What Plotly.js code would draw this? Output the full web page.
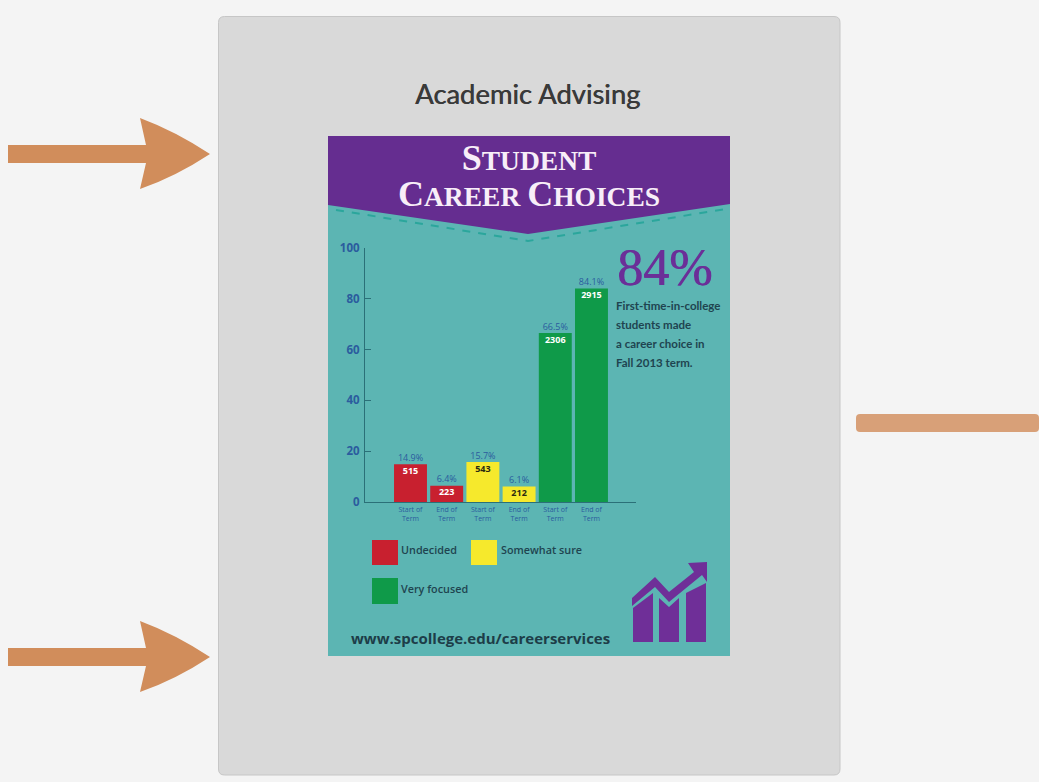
<!DOCTYPE html>
<html>
<head>
<meta charset="utf-8">
<script src="https://cdn.plot.ly/plotly-3.0.1.min.js"></script>
<style>html,body{margin:0;padding:0;background:#f4f4f4}#chart{width:1039px;height:782px}</style>
</head>
<body>
<div id="chart"></div>
<script>
// Chart values
const tickText = ['Start of<br>Term', 'End of<br>Term', 'Start of<br>Term', 'End of<br>Term', 'Start of<br>Term', 'End of<br>Term'];
const undecidedPct = [14.9, 6.4];
const undecidedCount = [515, 223];
const somewhatPct = [15.7, 6.1];
const somewhatCount = [543, 212];
const focusedPct = [66.5, 84.1];
const focusedCount = [2306, 2915];
const yTicks = [0, 20, 40, 60, 80, 100];
const seriesNames = ['Undecided', 'Somewhat sure', 'Very focused'];
const headline = '84%';
const noteLines = ['First-time-in-college', 'students made', 'a career choice in', 'Fall 2013 term.'];
const webAddress = 'www.spcollege.edu/careerservices';

// Plot area in page pixels; decoration is placed relative to it
const W = 1039, H = 782;
const L = 365, R = 636, T = 248, B = 502;
const fx = x => (x - L) / (R - L);
const fy = y => (B - y) / (B - T);

// Turns a compact list of [command, px, py, ...] into a paper-referenced SVG path
function path(cmds) {
  return cmds.map(c => {
    const out = [c[0]];
    for (let i = 1; i < c.length; i += 2) out.push(fx(c[i]) + ',' + fy(c[i + 1]));
    return out.join(' ');
  }).join(' ');
}
function poly(points) {
  return points.map((p, i) => (i ? 'L ' : 'M ') + fx(p[0]) + ',' + fy(p[1])).join(' ') + ' Z';
}
function roundRect(x0, y0, x1, y1, r) {
  return path([['M', x0 + r, y0], ['L', x1 - r, y0], ['Q', x1, y0, x1, y0 + r], ['L', x1, y1 - r],
    ['Q', x1, y1, x1 - r, y1], ['L', x0 + r, y1], ['Q', x0, y1, x0, y1 - r], ['L', x0, y0 + r],
    ['Q', x0, y0, x0 + r, y0]]) + ' Z';
}
function shape(d, fill, line) {
  return { type: 'path', xref: 'paper', yref: 'paper', layer: 'below', path: d, fillcolor: fill,
    line: line || { width: 0 } };
}
function arrow(dy) {
  return path([['M', 8, 145 + dy], ['L', 146, 145 + dy], ['L', 140, 118 + dy],
    ['Q', 175, 131 + dy, 210, 154 + dy], ['Q', 175, 177 + dy, 140, 189 + dy],
    ['L', 146, 163 + dy], ['L', 8, 163 + dy]]) + ' Z';
}
function label(x, y, text, size, color, family, anchor, weight, shadow) {
  const a = anchor || 'left';
  const font = { size, color, family, weight: weight || 400 };
  if (shadow) font.shadow = shadow;
  return { xref: 'paper', yref: 'paper', x: fx(a === 'left' ? x - 2 : x), y: fy(y), text, showarrow: false,
    xanchor: a, yanchor: 'middle', font };
}

const ORANGE = '#d18d5b', PURPLE = '#652d90', TEAL = '#5cb5b3';
const RED = '#c8202f', YELLOW = '#f6e92c', GREEN = '#0f9a49';
const BLUE = '#2b5c9e', INK = '#1f4450';
const SANS = '"Open Sans", sans-serif';
const LATO = 'Lato, sans-serif';
const SERIF = '"Liberation Serif", serif';
const TITLE_WHITE = '#f8eef8';
const bigCap = c => '<span style="font-size:36px">' + c + '</span>';

const shapes = [
  // Grey card
  shape(roundRect(218.5, 16.5, 840, 775, 6), '#d9d9d9', { color: '#c6c6c6', width: 1 }),
  // Pointers around the card
  shape(arrow(0), ORANGE),
  shape(arrow(503), ORANGE),
  shape(roundRect(856, 414, 1039, 432, 4), '#d8a078'),
  // Poster
  shape(poly([[328, 136], [730, 136], [730, 656], [328, 656]]), TEAL),
  shape(poly([[328, 136], [730, 136], [730, 204], [528, 234], [328, 205]]), PURPLE),
  { type: 'path', xref: 'paper', yref: 'paper', layer: 'below',
    path: path([['M', 336, 210], ['L', 528, 241], ['L', 726, 209]]),
    line: { color: '#2ba69c', width: 2, dash: '8px,8px' } },
  // Legend swatches
  shape(poly([[372, 540], [398, 540], [398, 565], [372, 565]]), RED),
  shape(poly([[471, 540], [497, 540], [497, 565], [471, 565]]), YELLOW),
  shape(poly([[372, 578], [398, 578], [398, 604], [372, 604]]), GREEN),
  // Rising-bars emblem
  shape(poly([[633, 608], [653, 593], [653, 642], [633, 642]]), '#6f2f98'),
  shape(poly([[659, 598], [669, 607], [679, 598], [679, 642], [659, 642]]), '#6f2f98'),
  shape(poly([[686, 593], [706, 583], [706, 642], [686, 642]]), '#6f2f98'),
  shape(poly([[632, 598], [655, 577], [669, 592], [694, 572], [688, 563], [707, 562], [707, 582],
    [702, 575], [669, 602], [655, 587], [632, 606]]), '#6f2f98')
];

const annotations = [
  label(527, 93, 'Academic Advising', 27.4, '#3a3a3a', LATO, 'center', 400, '0.5px 0 0 #3a3a3a'),
  label(529, 176, '<b>' + bigCap('S') + 'TUDENT<br>' + bigCap('C') + 'AREER ' + bigCap('C') + 'HOICES</b>',
    27.5, TITLE_WHITE, SERIF, 'center'),
  label(664, 267, headline, 52, '#6b2f98', SERIF, 'center', 400, '0.8px 0 0 #6b2f98'),
  label(616, 305, noteLines[0], 11.5, INK, LATO, 'left', 700),
  label(616, 324, noteLines[1], 11.5, INK, LATO, 'left', 700),
  label(616, 343, noteLines[2], 11.5, INK, LATO, 'left', 700),
  label(616, 362, noteLines[3], 11.5, INK, LATO, 'left', 700),
  label(401, 549, seriesNames[0], 10.8, INK, SANS, 'left', 600),
  label(501, 549, seriesNames[1], 10.8, INK, SANS, 'left', 600),
  label(401, 588, seriesNames[2], 10.8, INK, SANS, 'left', 600),
  label(351, 638, webAddress, 15, '#1d3d48', SANS, 'left', 700)
];

// One bar trace per series, sitting on consecutive slots of the shared x axis
function barTrace(name, slots, values, color) {
  return { type: 'bar', name, x: slots, y: values, width: 0.91, marker: { color }, hoverinfo: 'x+y' };
}
// Text-only trace for labels tied to the top of each bar
function labelTrace(slots, values, text, position, font) {
  return { type: 'scatter', mode: 'text', x: slots, y: values, text, textposition: position,
    cliponaxis: false, textfont: font, hoverinfo: 'skip' };
}
const allPct = undecidedPct.concat(somewhatPct, focusedPct);
const slots = allPct.map((_, i) => i);
const COUNT_DROP = 2.9; // counts sit this many axis units below the bar top
const PCT_LIFT = 0.5;   // percentages clear the bar top by this many axis units
const countFont = color => ({ size: 9, color, family: SANS, weight: 700 });
const dropped = values => values.map(v => v - COUNT_DROP);

const traces = [
  barTrace(seriesNames[0], [0, 1], undecidedPct, RED),
  barTrace(seriesNames[1], [2, 3], somewhatPct, YELLOW),
  barTrace(seriesNames[2], [4, 5], focusedPct, GREEN),
  labelTrace(slots, allPct.map(v => v + PCT_LIFT), allPct.map(v => v.toFixed(1) + '%'), 'top center',
    { size: 9, color: BLUE, family: SANS }),
  labelTrace([0, 1], dropped(undecidedPct), undecidedCount.map(String), 'middle center', countFont('#ffffff')),
  labelTrace([2, 3], dropped(somewhatPct), somewhatCount.map(String), 'middle center', countFont('#2a2a10')),
  labelTrace([4, 5], dropped(focusedPct), focusedCount.map(String), 'middle center', countFont('#ffffff'))
];

const layout = {
  width: W, height: H, showlegend: false,
  margin: { l: L, r: W - R, t: T, b: H - B, pad: 0 },
  paper_bgcolor: '#f4f4f4', plot_bgcolor: 'rgba(0,0,0,0)',
  barmode: 'overlay',
  xaxis: {
    range: [-1.257, 6.23], tickmode: 'array', tickvals: slots, ticktext: tickText,
    showgrid: false, zeroline: false, showline: true, linecolor: '#2b7078', linewidth: 1.2,
    ticks: '', tickfont: { size: 7, color: BLUE, family: SANS }
  },
  yaxis: {
    range: [0, 100], tickmode: 'array', tickvals: yTicks,
    showgrid: false, zeroline: false, showline: true, linecolor: '#2b7078', linewidth: 1.2,
    ticks: 'inside', ticklen: 6, tickwidth: 1, tickcolor: '#2b7078',
    ticklabelstandoff: 2,
    tickfont: { size: 11.5, color: BLUE, family: SANS, weight: 700 }
  },
  shapes, annotations
};

Plotly.newPlot('chart', traces, layout, { displayModeBar: false, responsive: false });
</script>
</body>
</html>
